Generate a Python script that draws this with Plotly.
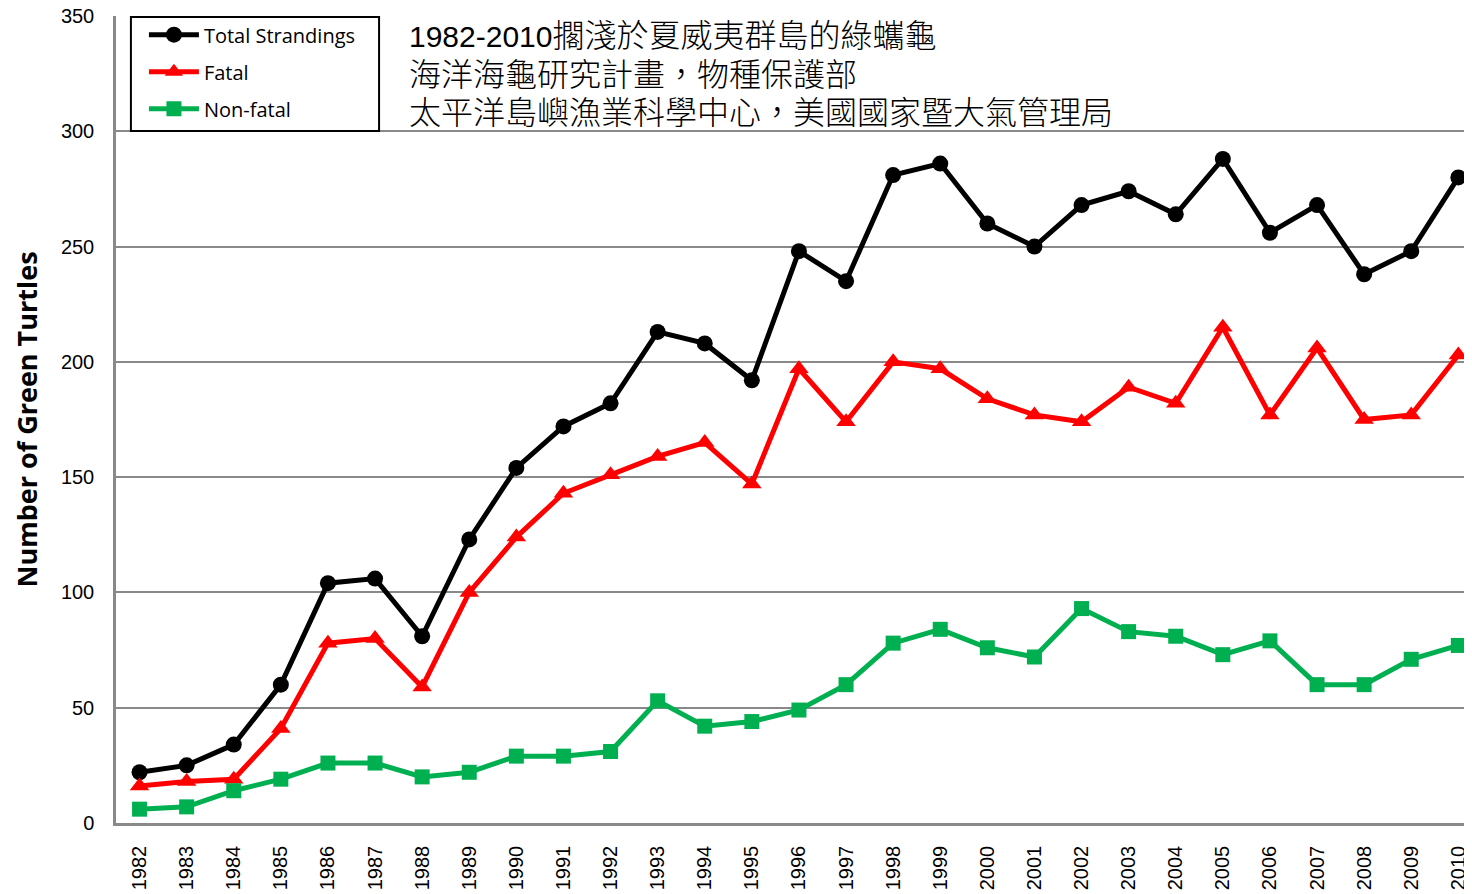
import plotly.graph_objects as go

years = list(range(1982, 2011))
year_labels = [str(y) for y in years]
total = [22, 25, 34, 60, 104, 106, 81, 123, 154, 172, 182, 213, 208, 192, 248,
         235, 281, 286, 260, 250, 268, 274, 264, 288, 256, 268, 238, 248, 280]
fatal = [16, 18, 19, 41, 78, 80, 59, 100, 124, 143, 151, 159, 165, 147, 197,
         174, 200, 197, 184, 177, 174, 189, 182, 215, 177, 206, 175, 177, 203]
nonfatal = [6, 7, 14, 19, 26, 26, 20, 22, 29, 29, 31, 53, 42, 44, 49,
            60, 78, 84, 76, 72, 93, 83, 81, 73, 79, 60, 60, 71, 77]
series_names = ["Total Strandings", "Fatal", "Non-fatal"]
title_year = "1982-2010"
title_lines = ["擱淺於夏威夷群島的綠蠵龜",
               "海洋海龜研究計畫，物種保護部",
               "太平洋島嶼漁業科學中心，美國國家暨大氣管理局"]
y_title = "Number of Green Turtles"

fig = go.Figure()
specs = [(total, "#000000", "circle", 16),
         (fatal, "#ff0000", "triangle-up", 17),
         (nonfatal, "#00b050", "square", 15)]
for name, (vals, color, sym, sz) in zip(series_names, specs):
    fig.add_trace(go.Scatter(
        x=years, y=vals, name=name, mode="lines+markers",
        line=dict(color=color, width=5),
        marker=dict(symbol=sym, size=sz, color=color),
        legendgroup=name,
    ))

grid = "#898989"
# page body has an 8px margin: figure is sized/margined to compensate
fig.update_layout(
    width=1464, height=886,
    margin=dict(l=108, r=0, t=8, b=71),
    paper_bgcolor="white", plot_bgcolor="white",
    font=dict(family="Liberation Sans, Arial, sans-serif", size=20, color="black"),
    showlegend=True,
    legend=dict(
        x=0.0206, y=1.001, xanchor="left", yanchor="top",
        bgcolor="rgba(0,0,0,0)", borderwidth=0,
        font=dict(family="Open Sans, Noto Sans, sans-serif", size=20, color="black"),
        tracegroupgap=8, itemwidth=50,
    ),
    xaxis=dict(
        range=[1981.5, 2010.29], tickmode="array", tickvals=years, ticktext=year_labels,
        tickangle=-90, showgrid=False, showline=True, linecolor=grid, linewidth=2.5,
        ticks="", ticklabelstandoff=12, tickfont=dict(size=20),
        zeroline=False, automargin=False,
    ),
    yaxis=dict(
        range=[0, 350], dtick=50, showgrid=True, gridcolor=grid, gridwidth=2,
        showline=True, linecolor=grid, linewidth=2.5, ticks="", ticklabelstandoff=15,
        zeroline=False, tickfont=dict(size=20), automargin=False,
        ticklabeloverflow="allow",
        title=dict(text=y_title, font=dict(family="Open Sans, Noto Sans, sans-serif",
                                           size=27, color="black", weight="bold"),
                   standoff=33),
    ),
)

# legend frame
fig.add_shape(type="rect", xref="paper", yref="paper",
              x0=0.011, x1=0.194, y0=0.8575, y1=0.9988,
              line=dict(color="black", width=2), fillcolor="white", layer="above")

first = ("<span style=\"font-family:'Liberation Sans', Arial, sans-serif; font-size:30px\">"
         + title_year + "</span>" + title_lines[0])
lines = [first] + title_lines[1:]
line_y = [0.979, 0.9305, 0.8835]
for txt, yy in zip(lines, line_y):
    fig.add_annotation(
        xref="paper", yref="paper", x=0.2145, y=yy, xanchor="left", yanchor="middle",
        text=txt, showarrow=False, align="left",
        font=dict(family="Noto Sans CJK TC, sans-serif", size=32, color="black",
                  weight=300),
    )

fig.write_html("out.html")
